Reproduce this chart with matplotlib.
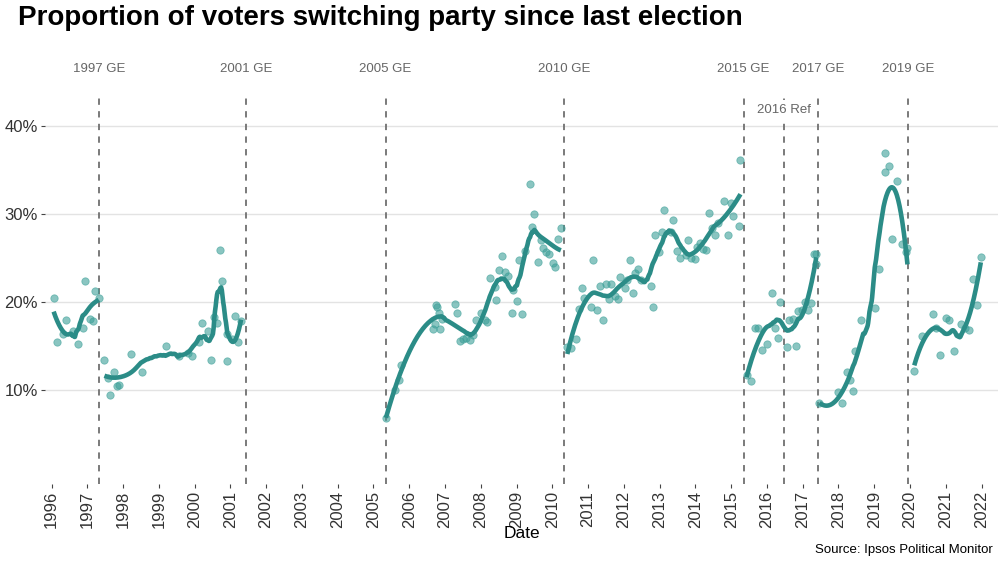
import numpy as np
import matplotlib
matplotlib.use("Agg")
import matplotlib.pyplot as plt

plt.rcParams['font.family'] = ['Liberation Sans', 'DejaVu Sans']

# ---------------- data (decimal years, % switching) ----------------
dates_9697 = [1996.06, 1996.15, 1996.31, 1996.41, 1996.59, 1996.73, 1996.87, 1996.94,
              1997.08, 1997.16, 1997.23, 1997.32]
share_9697 = [20.5, 15.5, 16.4, 17.9, 16.7, 15.2, 17.0, 22.4, 18.1, 17.8, 21.2, 20.5]

dates_9701 = [1997.48, 1997.57, 1997.64, 1997.75, 1997.82, 1997.90, 1998.21, 1998.54,
              1999.21, 1999.57, 1999.82, 1999.94, 2000.12, 2000.22, 2000.38, 2000.47,
              2000.53, 2000.64, 2000.71, 2000.78, 2000.90, 2000.92, 2001.04, 2001.13,
              2001.22, 2001.30]
share_9701 = [13.4, 11.4, 9.4, 12.0, 10.4, 10.6, 14.1, 12.0,
              15.0, 13.9, 14.2, 13.9, 15.5, 17.6, 16.7, 13.4,
              18.3, 17.6, 25.9, 22.4, 13.3, 16.4, 15.8, 18.4,
              15.4, 17.8]

dates_0510 = [2005.35, 2005.59, 2005.72, 2005.77, 2006.67, 2006.72, 2006.74, 2006.77,
              2006.84, 2006.87, 2006.91, 2007.28, 2007.35, 2007.43, 2007.51, 2007.60,
              2007.70, 2007.77, 2007.88, 2008.00, 2008.11, 2008.18, 2008.27, 2008.39,
              2008.42, 2008.50, 2008.59, 2008.67, 2008.76, 2008.87, 2008.90, 2009.01,
              2009.07, 2009.16, 2009.23, 2009.37, 2009.43, 2009.49, 2009.60, 2009.68,
              2009.75, 2009.83, 2009.91, 2010.02, 2010.09, 2010.17, 2010.24]
share_0510 = [6.8, 10.0, 11.1, 12.8, 16.9, 17.5, 19.7, 19.4,
              18.7, 16.9, 18.1, 19.8, 18.7, 15.6, 15.8, 15.9,
              15.7, 16.2, 17.9, 18.8, 17.9, 17.7, 22.7, 21.7,
              20.2, 23.6, 25.2, 23.4, 23.0, 18.8, 21.4, 20.1,
              24.8, 18.6, 25.8, 33.4, 28.5, 30.0, 24.5, 27.0,
              26.1, 25.7, 25.5, 24.4, 24.0, 27.2, 28.4]

dates_1015 = [2010.42, 2010.53, 2010.67, 2010.74, 2010.83, 2010.90, 2011.09, 2011.15,
              2011.25, 2011.34, 2011.41, 2011.49, 2011.58, 2011.64, 2011.76, 2011.83,
              2011.89, 2012.02, 2012.09, 2012.16, 2012.26, 2012.31, 2012.39, 2012.48,
              2012.76, 2012.82, 2012.88, 2012.99, 2013.06, 2013.13, 2013.32, 2013.38,
              2013.48, 2013.56, 2013.73, 2013.80, 2013.89, 2013.98, 2014.04, 2014.14,
              2014.21, 2014.30, 2014.39, 2014.47, 2014.55, 2014.62, 2014.79, 2014.90,
              2015.01, 2015.06, 2015.22, 2015.26]
share_1015 = [14.9, 14.8, 15.8, 19.2, 21.6, 20.4, 19.4, 24.8,
              19.1, 21.8, 17.9, 22.1, 20.3, 22.1, 20.7, 20.3,
              22.8, 21.6, 22.5, 24.8, 21.0, 23.3, 23.8, 22.5,
              21.8, 19.4, 27.6, 25.7, 28.0, 30.4, 28.0, 29.3,
              25.8, 25.0, 25.3, 27.1, 25.0, 24.9, 26.2, 26.7,
              26.0, 25.9, 30.1, 28.4, 27.6, 29.0, 31.5, 27.6,
              31.3, 29.8, 28.6, 36.1]

dates_1517 = [2015.43, 2015.55, 2015.66, 2015.75, 2015.87, 2016.01, 2016.15, 2016.24,
              2016.31, 2016.38, 2016.55, 2016.63, 2016.72, 2016.80, 2016.88, 2016.97,
              2017.06, 2017.15, 2017.24, 2017.31, 2017.37, 2017.38]
share_1517 = [11.7, 11.0, 17.0, 17.0, 14.5, 15.2, 21.0, 17.0,
              15.9, 20.0, 14.9, 18.0, 18.1, 15.0, 19.0, 19.1,
              20.0, 19.1, 19.9, 25.5, 24.3, 25.5]

dates_1719 = [2017.47, 2017.98, 2018.11, 2018.24, 2018.32, 2018.41, 2018.47, 2018.64,
              2019.01, 2019.13, 2019.29, 2019.31, 2019.41, 2019.49, 2019.63, 2019.79,
              2019.88, 2019.93]
share_1719 = [8.5, 9.8, 8.5, 12.1, 11.1, 9.9, 14.4, 18.0,
              19.3, 23.8, 34.8, 36.9, 35.4, 27.2, 33.8, 26.6,
              25.7, 26.1]

dates_1922 = [2020.12, 2020.33, 2020.64, 2020.73, 2020.84, 2021.01, 2021.10, 2021.22,
              2021.43, 2021.54, 2021.64, 2021.75, 2021.86, 2021.98]
share_1922 = [12.2, 16.1, 18.6, 17.0, 14.0, 18.2, 17.9, 14.4,
              17.5, 17.0, 16.8, 22.6, 19.7, 25.1]

election_dates = [1997.33, 2001.43, 2005.34, 2010.34, 2015.35, 2016.48, 2017.44, 2019.95]
election_labels = ["1997 GE", "2001 GE", "2005 GE", "2010 GE", "2015 GE", "2016 Ref",
                   "2017 GE", "2019 GE"]

year_ticks = list(range(1996, 2023))
pct_ticks = [10, 20, 30, 40]

segments = [(dates_9697, share_9697, 0.75), (dates_9701, share_9701, 0.4),
            (dates_0510, share_0510, 0.42), (dates_1015, share_1015, 0.35),
            (dates_1517, share_1517, 0.6), (dates_1719, share_1719, 0.7),
            (dates_1922, share_1922, 0.75)]


def loess(x, y, grid, span):
    x = np.asarray(x, float)
    y = np.asarray(y, float)
    n = len(x)
    q = max(int(np.floor(n * span)), 4)
    out = []
    for g in grid:
        d = np.abs(x - g)
        h = np.sort(d)[q - 1] * 1.0001 + 1e-9
        w = np.clip(1 - (d / h) ** 3, 0, None) ** 3
        X = np.vstack([np.ones(n), x - g, (x - g) ** 2]).T
        sw = np.sqrt(w)
        coef = np.linalg.lstsq(X * sw[:, None], y * sw, rcond=None)[0]
        out.append(coef[0])
    return np.array(out)


# ---------------- figure ----------------
W, H = 1000, 563
fig = plt.figure(figsize=(W / 100, H / 100), dpi=100)
px_left, px_right, px_top, px_bot = 45, 998, 55, 484
ax = fig.add_axes([px_left / W, 1 - px_bot / H, (px_right - px_left) / W, (px_bot - px_top) / H])

ppy = 35.77        # px per year
x1996 = 51.5
ppp = 8.8          # px per percent
xmin = 1996 - (x1996 - px_left) / ppy
xmax = xmin + (px_right - px_left) / ppy
ymin = 10 - (px_bot - 390) / ppp
ymax = ymin + (px_bot - px_top) / ppp
ax.set_xlim(xmin, xmax)
ax.set_ylim(ymin, ymax)

for s in ax.spines.values():
    s.set_visible(False)
ax.set_yticks(pct_ticks)
ax.set_yticklabels([f"{v}%" for v in pct_ticks], fontsize=12, color='#333333')
ax.set_xticks(year_ticks)
ax.set_xticklabels([str(y) for y in year_ticks], rotation=90, fontsize=12, color='#333333')
ax.tick_params(axis='both', length=3, width=0.8, color='#444444', pad=2)
ax.grid(axis='y', color='#e3e3e3', linewidth=1.0)
ax.set_axisbelow(True)

line_top = 43.5
for d, lab in zip(election_dates, election_labels):
    ax.plot([d, d], [ymin, line_top], color='#707070', linestyle=(0, (3.5, 3.5)),
            linewidth=1.3, zorder=1)
    ty = 41.8 if lab == "2016 Ref" else 46.5
    ax.text(d, ty, lab, ha='center', va='center', fontsize=9.5, color='#666666',
            zorder=5, bbox=dict(facecolor='white', edgecolor='none', pad=3))

for dts, vals, span in segments:
    ax.scatter(dts, vals, s=28, color='#3c9f98', alpha=0.6, edgecolors='#3c9f98',
               linewidths=0.6, zorder=3)
    grid = np.linspace(min(dts), max(dts), 200)
    ax.plot(grid, loess(dts, vals, grid, span), color='#2b8c87', linewidth=3.3,
            solid_capstyle='butt', zorder=4)

ax.set_xlabel("Date", fontsize=12.5, color='black', labelpad=-2)

fig.text(18 / W, 1 - 18 / H, "Proportion of voters switching party since last election",
         fontsize=20, fontweight='bold', ha='left', va='center')
fig.text(993 / W, 1 - 550 / H, "Source: Ipsos Political Monitor", fontsize=9.5,
         ha='right', va='center')

fig.savefig("out.png", dpi=100)
